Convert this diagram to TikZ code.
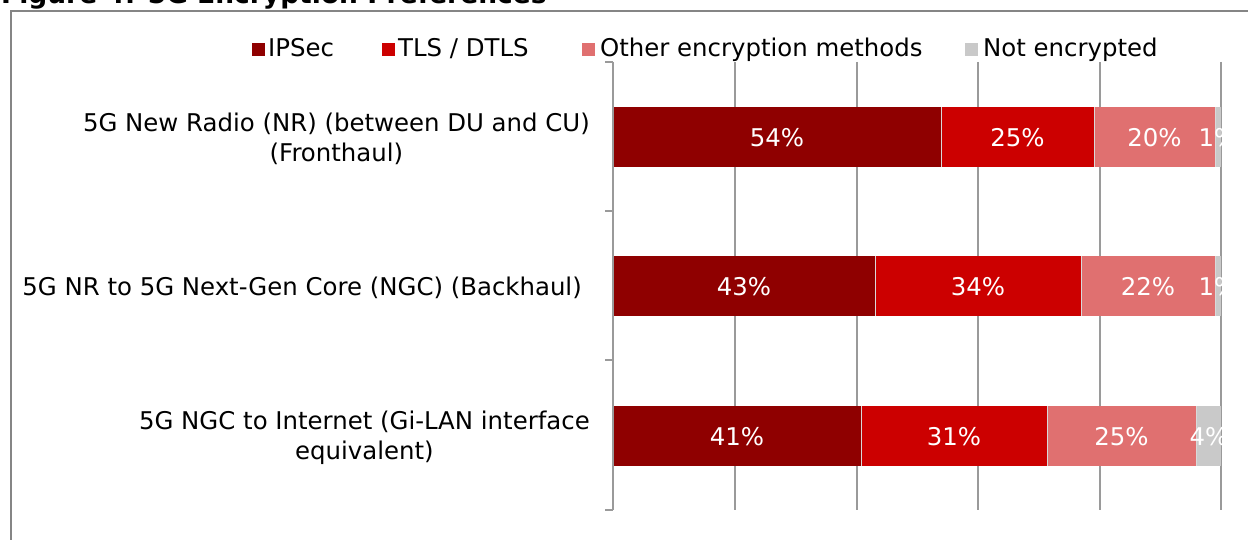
\documentclass[tikz,border=0pt]{standalone}
\usepackage{fontspec}
\setmainfont{DejaVu Sans}
\definecolor{cIPSec}{HTML}{8F0000}
\definecolor{cTLS}{HTML}{CC0000}
\definecolor{cOther}{HTML}{E07070}
\definecolor{cNone}{HTML}{C9C9C9}
\definecolor{cGrid}{HTML}{9A9A9A}
\definecolor{cFrame}{HTML}{858585}
\begin{document}
\begin{tikzpicture}[x=1pt,y=-1pt,
  txt/.style={font=\fontsize{24.4}{30}\selectfont, inner sep=0pt, text=black},
  val/.style={txt, text=white, anchor=base},
  cat/.style={txt, align=center},
  swatch/.style={inner sep=0pt, minimum size=13pt},
  gridl/.style={draw=cGrid, line width=1.2pt},
  frame/.style={draw=cFrame, line width=1.6pt}
]
\useasboundingbox (0,0) rectangle (1248,540);
% title (cut at top)
\node[inner sep=0pt, anchor=base west, font=\fontsize{26.5}{30}\selectfont\bfseries] (title) at (1,4) {Figure 4: 5G Encryption Preferences};
% chart frame
\draw[frame] (1260,11) -- (11,11) -- (11,550);
% gridlines
\foreach \gx in {735,857,978,1100,1221} \draw[gridl] (\gx,62) -- (\gx,510);
% bars
\fill[cIPSec] (613,107) rectangle (941,167);
\fill[cTLS] (941,107) rectangle (1094,167);
\fill[cOther] (1094,107) rectangle (1215,167);
\fill[cNone] (1215,107) rectangle (1221,167);
\fill[cIPSec] (613,256) rectangle (875,316);
\fill[cTLS] (875,256) rectangle (1081,316);
\fill[cOther] (1081,256) rectangle (1215,316);
\fill[cNone] (1215,256) rectangle (1221,316);
\fill[cIPSec] (613,406) rectangle (861,466);
\fill[cTLS] (861,406) rectangle (1047,466);
\fill[cOther] (1047,406) rectangle (1196,466);
\fill[cNone] (1196,406) rectangle (1221,466);
\foreach \sx/\sy in {941/107,1094/107,1215/107,875/256,1081/256,1215/256,861/406,1047/406,1196/406}
  \draw[white!70!gray, line width=0.6pt] (\sx,\sy) -- (\sx,\sy+60);
% value axis
\draw[gridl] (613,62) -- (613,510);
\foreach \ty in {62,211,360,510} \draw[gridl] (605,\ty) -- (613,\ty);
% value labels (clipped to plot area)
\begin{scope}
\clip (600,60) rectangle (1222,512);
\node[val] (v11) at (777,146.5) {54\%};
\node[val] (v12) at (1017.5,146.5) {25\%};
\node[val] (v13) at (1154.5,146.5) {20\%};
\node[val] (v14) at (1218,146.5) {1\%};
\node[val] (v21) at (744,295.5) {43\%};
\node[val] (v22) at (978,295.5) {34\%};
\node[val] (v23) at (1148,295.5) {22\%};
\node[val] (v24) at (1218,295.5) {1\%};
\node[val] (v31) at (737,445.5) {41\%};
\node[val] (v32) at (954,445.5) {31\%};
\node[val] (v33) at (1121.5,445.5) {25\%};
\node[val] (v34) at (1209,445.5) {4\%};
\end{scope}
% category labels
\node[cat, anchor=east] (c1) at (590,139.2) {5G New Radio (NR) (between DU and CU)\\(Fronthaul)};
\node[txt, anchor=base east] (c2) at (582,295.5) {5G NR to 5G Next-Gen Core (NGC) (Backhaul)};
\node[cat, anchor=east] (c3) at (590,437.7) {5G NGC to Internet (Gi-LAN interface\\equivalent)};
% legend
\node[swatch, fill=cIPSec, anchor=south west] (s1) at (252,56) {};
\node[txt, anchor=base west] (l1) at (268,56.5) {IPSec};
\node[swatch, fill=cTLS, anchor=south west] (s2) at (382,56) {};
\node[txt, anchor=base west] (l2) at (398,56.5) {TLS / DTLS};
\node[swatch, fill=cOther, anchor=south west] (s3) at (582,56) {};
\node[txt, anchor=base west] (l3) at (600,56.5) {Other encryption methods};
\node[swatch, fill=cNone, anchor=south west] (s4) at (965,56) {};
\node[txt, anchor=base west] (l4) at (983,56.5) {Not encrypted};
\end{tikzpicture}
\end{document}
